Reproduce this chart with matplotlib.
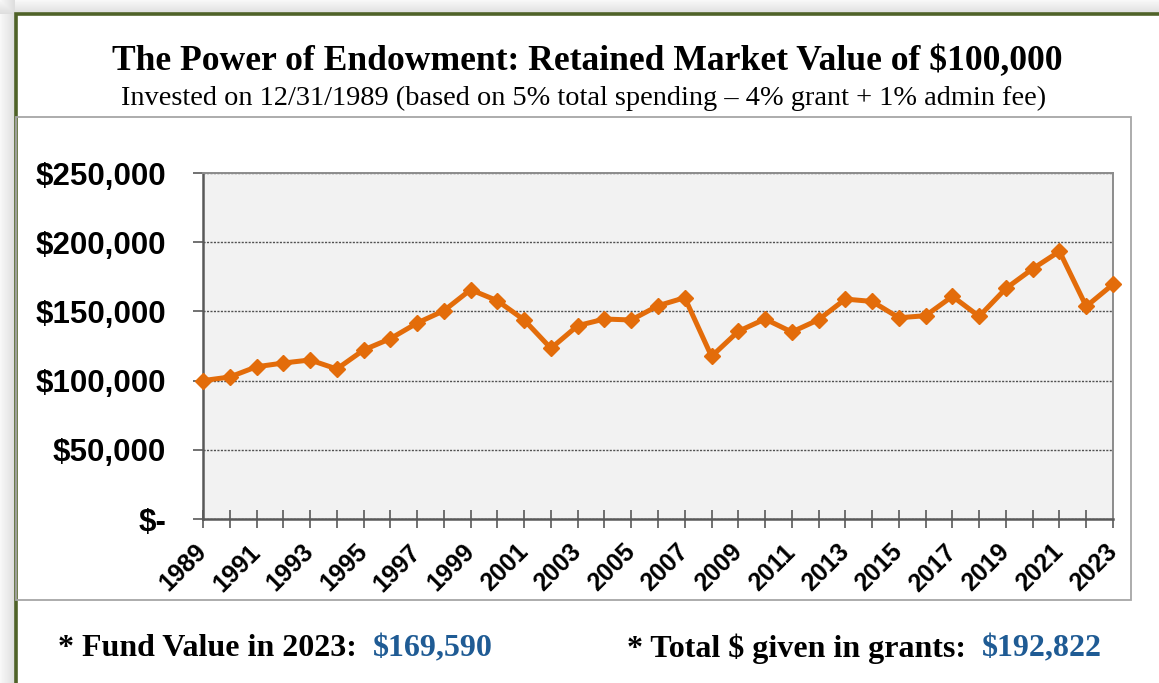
import numpy as np
import matplotlib
matplotlib.use('Agg')
import matplotlib.pyplot as plt
from matplotlib.patches import Rectangle
from matplotlib.ticker import FuncFormatter

# data
years = list(range(1989, 2024))
values = [100000, 102600, 110000, 112700, 114900, 108400, 122100, 130300, 141600, 150500,
          165700, 157700, 143800, 123300, 139700, 144500, 143800, 154100, 159900, 117500,
          135600, 144500, 135100, 144000, 158900, 157200, 145400, 146900, 160900, 146400,
          166600, 180800, 193400, 153600, 169590]
y_ticks = [0, 50000, 100000, 150000, 200000, 250000]

title = "The Power of Endowment: Retained Market Value of $100,000"
subtitle = "Invested on 12/31/1989 (based on 5% total spending \u2013 4% grant + 1% admin fee)"
note1 = ("* Fund Value in 2023:  ", "$169,590")
note2 = ("* Total $ given in grants:  ", "$192,822")

W, H = 1159, 683
fig = plt.figure(figsize=(W / 100, H / 100), dpi=100)

# background with soft shadow outside the green frame
bg = fig.add_axes([0, 0, 1, 1], zorder=-10)
xs = np.arange(W)
ys = np.arange(H)
dx = np.clip((15 - xs) / 15.0, 0, 1)
dy = np.clip((14 - ys) / 14.0, 0, 1)
shade_x = 0.86 + 0.11 * dx
shade_y = 0.86 + 0.11 * dy
img = np.minimum(np.where(xs[None, :] < 15, shade_x[None, :], 1.0),
                 np.where(ys[:, None] < 14, shade_y[:, None], 1.0))
bg.imshow(img, cmap='gray', vmin=0, vmax=1, extent=[0, W, H, 0], aspect='auto')
bg.set_xlim(0, W)
bg.set_ylim(H, 0)
bg.axis('off')

def px(x, y):
    return x / W, 1 - y / H

# green outer frame
fig.add_artist(Rectangle(px(16, H + 10), (W + 10) / W, (H - 4) / H, transform=fig.transFigure,
                         fill=False, edgecolor='#4f6228', linewidth=2.6))
# gray inner chart box
x0, y0 = px(16, 600)
fig.add_artist(Rectangle((x0, y0), (1131 - 16) / W, (600 - 117) / H, transform=fig.transFigure,
                         fill=False, edgecolor='#a6a6a6', linewidth=1.3))

# titles
fig.text(587 / W, 1 - 62 / H, title, ha='center', va='center', family='Liberation Serif',
         fontweight='bold', fontsize=25.6)
fig.text(584 / W, 1 - 98 / H, subtitle, ha='center', va='center', family='Liberation Serif',
         fontsize=20.4)

# main axes
ax = fig.add_axes([203 / W, 1 - 519 / H, (1113 - 203) / W, (519 - 173) / H])
ax.set_facecolor('#f2f2f2')
ax.plot(years, values, color='#e36c0a', linewidth=3.6, marker='D', markersize=8, zorder=3,
        clip_on=False)
ax.set_xlim(1989, 2023)
ax.set_ylim(0, 250000)
ax.set_yticks(y_ticks)
ax.yaxis.set_major_formatter(FuncFormatter(lambda v, p: '$-' if v == 0 else '${:,.0f}'.format(v)))
ax.set_xticks(years)
ax.set_xticklabels([str(y) if (y - 1989) % 2 == 0 else '' for y in years], rotation=45,
                   ha='right', va='center', rotation_mode='anchor')
ax.grid(axis='y', linestyle=(0, (1.5, 1)), color='#505050', linewidth=1)
ax.set_axisbelow(True)

for lab in ax.get_yticklabels():
    lab.set_family('Liberation Sans')
    lab.set_fontweight('bold')
    lab.set_fontsize(22.5)
for lab in ax.get_xticklabels():
    lab.set_family('Liberation Sans')
    lab.set_fontweight('bold')
    lab.set_fontsize(18)

ax.tick_params(axis='y', direction='out', length=7.5, width=1.2, color='#595959', pad=19)
ax.tick_params(axis='x', direction='inout', length=13, width=1.2, color='#595959', pad=14.5)
for s in ['left', 'bottom']:
    ax.spines[s].set_color('#595959')
    ax.spines[s].set_linewidth(1.8)
for s in ['top', 'right']:
    ax.spines[s].set_color('#8c8c8c')
    ax.spines[s].set_linewidth(1.4)

# bottom notes
def note(x, y, parts):
    t = fig.text(x / W, 1 - y / H, parts[0], ha='left', va='center', family='Liberation Serif',
                 fontweight='bold', fontsize=23)
    ax.annotate(parts[1], xy=(1, 0.5), xycoords=t, ha='left', va='center',
                family='Liberation Serif', fontweight='bold', fontsize=23, color='#1f5b94',
                annotation_clip=False)

note(58, 649, note1)
note(627, 649, note2)

fig.savefig('out.png', dpi=100)
